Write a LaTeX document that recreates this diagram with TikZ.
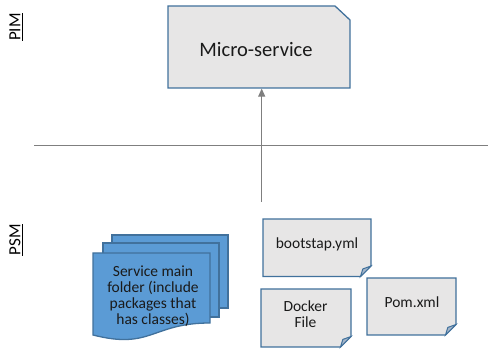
\documentclass[tikz,border=0pt]{standalone}
\usepackage{fontspec}
\setmainfont{Carlito}
\usetikzlibrary{arrows.meta}
\definecolor{boxfill}{HTML}{E7E6E6}
\definecolor{boxline}{HTML}{41719C}
\definecolor{bluefill}{HTML}{5B9BD5}
\definecolor{foldfill}{HTML}{A3B5C9}
\definecolor{linegray}{HTML}{7F7F7F}
\definecolor{txt}{HTML}{1A1A1A}
\tikzset{
  shapeline/.style={draw=boxline, line width=1.3pt},
  graybox/.style={shapeline, fill=boxfill},
  bluebox/.style={shapeline, fill=bluefill},
  fold/.style={draw=boxline, line width=1pt, fill=foldfill},
  lbl/.style={text=txt, font=\fontsize{15.5}{16}\selectfont, align=center, inner sep=0pt},
  side/.style={text=black, font=\fontsize{17}{18}\selectfont, rotate=90, inner sep=0pt},
  guide/.style={draw=linegray, line width=1pt},
}
\newcommand{\notedoc}[5]{% x1 y1 x2 y2 d
  \draw[graybox] (#1,#2) -- (#3,#2) -- (#3,#4-#5) -- (#3-#5,#4) -- (#1,#4) -- cycle;
  \draw[fold] (#3-#5,#4) -- (#3,#4-#5) -- (#3-0.78*#5,#4-0.72*#5) -- cycle;
}
\begin{document}
\begin{tikzpicture}[x=1pt,y=-1pt]
\useasboundingbox (0,0) rectangle (488,352);
% PIM micro-service box
\draw[graybox] (168,6) -- (335,6) -- (350,20) -- (350,88) -- (168,88) -- cycle;
\node[lbl, font=\fontsize{20.5}{22}\selectfont] (ms) at (256,50) {Micro-service};
\coordinate (msb) at (261.7,88.6);
% side labels
\node[side] (pim) at (16,27) {\underline{PIM}};
\node[side] (psm) at (16,240) {\underline{PSM}};
% separator
\coordinate (sepl) at (34,145.5);
\coordinate (sepr) at (488,145.5);
\draw[guide] (sepl) -- (sepr);
% arrow
\coordinate (arrbot) at (261.7,202);
\draw[guide, -{Triangle[length=8pt,width=7pt]}] (arrbot) -- (msb);
% multi-document stack
\draw[bluebox] (112,235) rectangle (228,308);
\draw[bluebox] (103,243) rectangle (219,317);
\draw[bluebox] (93,253) -- (210,253) -- (210,323) .. controls (151.5,323) and (151.5,350) .. (93,335) -- cycle;
\node[lbl] (smf) at (153,296) {Service main\\folder (include\\packages that\\has classes)};
% note documents
\notedoc{263}{219}{371}{276.5}{10.5}
\node[lbl] (boot) at (317,244) {bootstap.yml};
\notedoc{261}{289}{351}{347}{10.5}
\node[lbl] (dock) at (305.5,314.5) {Docker\\File};
\notedoc{367}{278}{456}{335}{10.5}
\node[lbl] (pom) at (412,302) {Pom.xml};
\end{tikzpicture}
\end{document}
